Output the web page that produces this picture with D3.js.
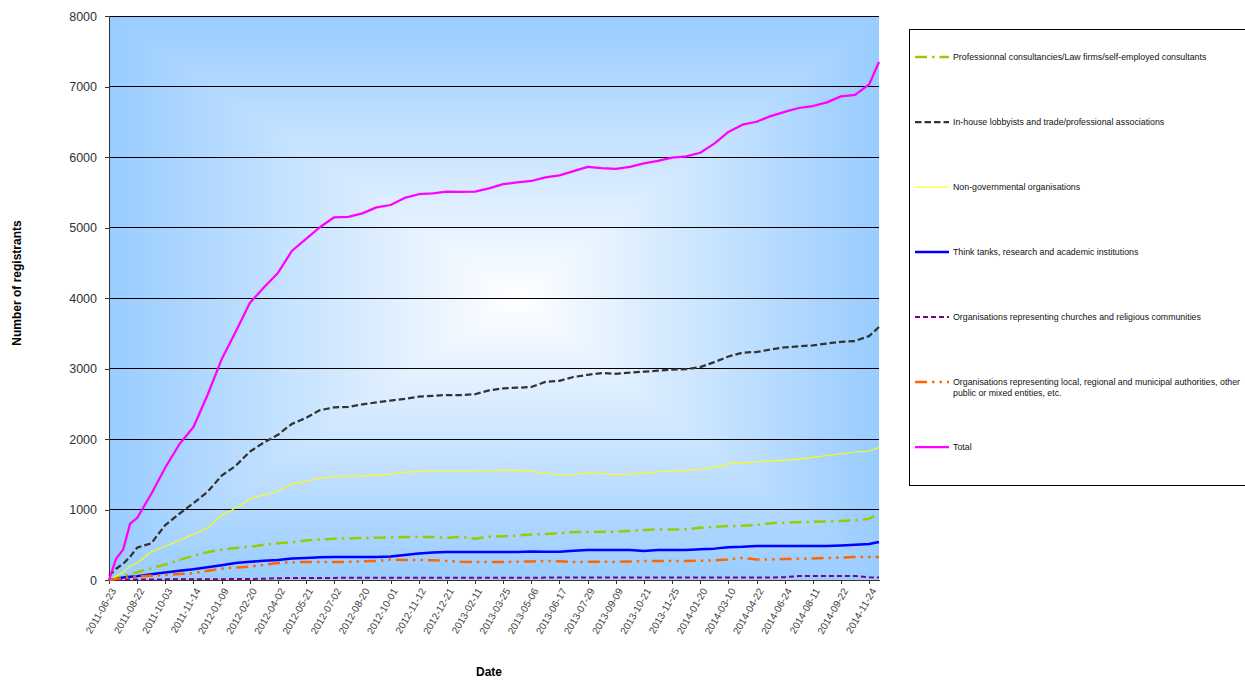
<!DOCTYPE html>
<html>
<head>
<meta charset="utf-8">
<script src="https://cdnjs.cloudflare.com/ajax/libs/d3/7.8.5/d3.min.js"></script>
<style>
  html, body { margin: 0; padding: 0; background: #ffffff; }
  svg { display: block; font-family: "Liberation Sans", Arial, sans-serif; }
</style>
</head>
<body>
<svg id="chart" width="1245" height="680"></svg>
<script>
// Registration snapshot dates shown on the category axis
const tickLabels = [
  "2011-06-23", "2011-08-22", "2011-10-03", "2011-11-14", "2012-01-09", "2012-02-20",
  "2012-04-02", "2012-05-21", "2012-07-02", "2012-08-20", "2012-10-01", "2012-11-12",
  "2012-12-21", "2013-02-11", "2013-03-25", "2013-05-06", "2013-06-17", "2013-07-29",
  "2013-09-09", "2013-10-21", "2013-11-25", "2014-01-20", "2014-03-10", "2014-04-22",
  "2014-06-24", "2014-08-11", "2014-09-22", "2014-11-24"
];

// Position of each sample along the category axis, in label steps
const samplePos = [
  0, 0.25, 0.5, 0.75, 1, 1.5, 2, 2.5, 3, 3.5, 4, 4.5, 5, 5.5, 6, 6.5, 7, 7.5, 8, 8.5,
  9, 9.5, 10, 10.5, 11, 11.5, 12, 12.5, 13, 13.5, 14, 14.5, 15, 15.5, 16, 16.5, 17, 17.5,
  18, 18.5, 19, 19.5, 20, 20.5, 21, 21.5, 22, 22.5, 23, 23.5, 24, 24.5, 25, 25.5, 26,
  26.5, 27, 27.35
];

const professional = [
  0, 30, 55, 85, 110, 165, 220, 285, 345, 395, 430, 455, 470, 500, 520, 535, 560, 575, 585, 590,
  595, 600, 605, 610, 612, 610, 598, 612, 585, 612, 620, 630, 645, 652, 665, 680, 682, 683,
  685, 695, 709, 718, 715, 720, 740, 755, 765, 768, 780, 805, 812, 820, 825, 832, 837,
  845, 870, 936
];
const inHouse = [
  60, 160, 230, 330, 460, 520, 780, 940, 1090, 1250, 1480, 1620, 1820, 1950, 2060, 2215, 2300, 2410, 2448, 2456,
  2490, 2520, 2545, 2570, 2600, 2612, 2624, 2624, 2635, 2690, 2718, 2727, 2738, 2810, 2825, 2880, 2910, 2935,
  2925, 2940, 2955, 2970, 2985, 2990, 3020, 3090, 3170, 3225, 3234, 3270, 3300, 3315, 3328, 3355, 3378,
  3390, 3460, 3589
];
const ngo = [
  0, 50, 110, 200, 241, 400, 480, 560, 650, 740, 920, 1020, 1150, 1210, 1260, 1360, 1405, 1440, 1465, 1475,
  1475, 1488, 1504, 1530, 1540, 1546, 1546, 1546, 1546, 1550, 1560, 1555, 1546, 1515, 1489, 1500, 1518, 1510,
  1495, 1504, 1520, 1535, 1546, 1555, 1570, 1600, 1645, 1665, 1674, 1690, 1700, 1715, 1740, 1765, 1790,
  1815, 1830, 1880
];
const thinkTanks = [
  0, 15, 35, 45, 55, 80, 105, 130, 153, 180, 210, 240, 258, 272, 284, 305, 312, 322, 326, 326,
  326, 326, 335, 355, 375, 390, 397, 397, 397, 397, 397, 397, 405, 400, 400, 415, 425, 425,
  425, 425, 410, 425, 425, 425, 435, 445, 465, 470, 482, 482, 482, 482, 482, 482, 490,
  500, 510, 539
];
const churches = [
  0, 3, 5, 6, 7, 8, 9, 10, 10, 11, 12, 13, 14, 18, 26, 28, 30, 30, 30, 31,
  31, 32, 32, 33, 33, 33, 33, 33, 33, 33, 33, 33, 33, 34, 34, 34, 34, 34,
  34, 34, 35, 35, 35, 35, 35, 35, 35, 35, 35, 36, 40, 57, 58, 58, 58,
  58, 38, 35
];
const localAuthorities = [
  0, 15, 30, 40, 50, 60, 72, 85, 97, 130, 160, 178, 190, 215, 241, 252, 255, 255, 255, 258,
  265, 270, 290, 284, 284, 280, 270, 258, 255, 255, 255, 260, 262, 270, 265, 255, 258, 258,
  256, 262, 268, 270, 270, 270, 272, 280, 290, 312, 290, 292, 298, 300, 305, 312, 318,
  326, 326, 326
];
const total = [
  0, 300, 430, 800, 880, 1220, 1596, 1925, 2170, 2624, 3130, 3520, 3929, 4150, 4355, 4670, 4840, 5007, 5145, 5150,
  5200, 5285, 5319, 5420, 5472, 5485, 5510, 5504, 5510, 5555, 5615, 5640, 5660, 5710, 5740, 5800, 5860, 5842,
  5832, 5860, 5910, 5945, 5990, 6008, 6060, 6190, 6355, 6458, 6500, 6580, 6640, 6695, 6723, 6775, 6860,
  6880, 7030, 7348
];

const yTicks = [0, 1000, 2000, 3000, 4000, 5000, 6000, 7000, 8000];

// Series styling (drawing order = legend order; Total ends on top)
const series = [
  { name: ["Professionnal consultancies/Law firms/self-employed consultants"], values: professional,
    color: "#99cc00", width: 2.5, dash: "12,5,2.5,5" },
  { name: ["In-house lobbyists and trade/professional associations"], values: inHouse,
    color: "#333333", width: 2.25, dash: "6.5,3" },
  { name: ["Non-governmental organisations"], values: ngo,
    color: "#ffff00", width: 1.1, dash: null },
  { name: ["Think tanks, research and academic institutions"], values: thinkTanks,
    color: "#0000ff", width: 2.5, dash: null },
  { name: ["Organisations representing churches and religious communities"], values: churches,
    color: "#800080", width: 2, dash: "5,3" },
  { name: ["Organisations representing local, regional and municipal authorities, other",
           "public or mixed entities, etc."], values: localAuthorities,
    color: "#ff6600", width: 2.5, dash: "12,5,2.5,5,2.5,5" },
  { name: ["Total"], values: total,
    color: "#ff00ff", width: 2.25, dash: null }
];

const plot = { left: 109, right: 879, top: 16, bottom: 580 };

const svg = d3.select("#chart");

const x = d3.scaleLinear()
  .domain([0, samplePos[samplePos.length - 1]])
  .range([plot.left, plot.right]);
const y = d3.scaleLinear()
  .domain([0, 8000])
  .range([plot.bottom, plot.top]);

// Plot background: light blue edges fading to white in the centre (rectangular contours)
const defs = svg.append("defs");
const gx = defs.append("linearGradient").attr("id", "bgX").attr("x1", 0).attr("x2", 1).attr("y1", 0).attr("y2", 0);
gx.append("stop").attr("offset", 0).attr("stop-color", "#99ccff");
gx.append("stop").attr("offset", 0.53).attr("stop-color", "#ffffff");
gx.append("stop").attr("offset", 1).attr("stop-color", "#99ccff");
const gy = defs.append("linearGradient").attr("id", "bgY").attr("x1", 0).attr("x2", 0).attr("y1", 0).attr("y2", 1);
gy.append("stop").attr("offset", 0).attr("stop-color", "#99ccff");
gy.append("stop").attr("offset", 0.5).attr("stop-color", "#ffffff");
gy.append("stop").attr("offset", 1).attr("stop-color", "#99ccff");

const bg = svg.append("g").style("isolation", "isolate");
bg.append("rect")
  .attr("x", plot.left).attr("y", plot.top)
  .attr("width", plot.right - plot.left).attr("height", plot.bottom - plot.top)
  .attr("fill", "url(#bgX)");
bg.append("rect")
  .attr("x", plot.left).attr("y", plot.top)
  .attr("width", plot.right - plot.left).attr("height", plot.bottom - plot.top)
  .attr("fill", "url(#bgY)")
  .style("mix-blend-mode", "darken");

// Horizontal gridlines
svg.append("g")
  .selectAll("line")
  .data(yTicks.filter(v => v > 0))
  .join("line")
  .attr("x1", plot.left).attr("x2", plot.right)
  .attr("y1", d => y(d)).attr("y2", d => y(d))
  .attr("stroke", "#000000")
  .attr("stroke-width", 1)
  .attr("shape-rendering", "crispEdges");

// Y axis
const yAxis = svg.append("g")
  .attr("transform", `translate(${plot.left},0)`)
  .call(d3.axisLeft(y).tickValues(yTicks).tickSize(4).tickPadding(8).tickFormat(d3.format("d")));
yAxis.select(".domain").attr("stroke", "#333333").attr("shape-rendering", "crispEdges");
yAxis.selectAll(".tick line").attr("stroke", "#333333").attr("shape-rendering", "crispEdges");
yAxis.selectAll(".tick text")
  .attr("fill", "#333333")
  .style("font-size", "12.5px")
  .style("font-family", "'Liberation Sans', Arial, sans-serif");

// X axis (category labels)
const xAxis = svg.append("g")
  .attr("transform", `translate(0,${plot.bottom})`)
  .call(d3.axisBottom(x)
    .tickValues(d3.range(tickLabels.length))
    .tickFormat(i => tickLabels[i])
    .tickSize(4)
    .tickSizeOuter(0));
xAxis.select(".domain").attr("stroke", "#333333").attr("shape-rendering", "crispEdges");
xAxis.selectAll(".tick line").attr("stroke", "#333333").attr("shape-rendering", "crispEdges");
xAxis.selectAll(".tick text")
  .attr("fill", "#404040")
  .style("font-size", "10px")
  .style("font-family", "'Liberation Sans', Arial, sans-serif")
  .attr("text-anchor", "end")
  .attr("dy", "0.35em")
  .attr("y", 0)
  .attr("transform", "translate(4,9) rotate(-60)");

// Series lines
const line = d3.line()
  .x((d, i) => x(samplePos[i]))
  .y(d => y(d))
  .curve(d3.curveLinear);

svg.append("g")
  .selectAll("path")
  .data(series)
  .join("path")
  .attr("d", s => line(s.values))
  .attr("fill", "none")
  .attr("stroke", s => s.color)
  .attr("stroke-width", s => s.width)
  .attr("stroke-dasharray", s => s.dash)
  .attr("stroke-linejoin", "round");

// Axis titles
svg.append("text")
  .attr("transform", "translate(21,283) rotate(-90)")
  .attr("text-anchor", "middle")
  .style("font-size", "12px")
  .style("font-weight", "bold")
  .attr("fill", "#000000")
  .text("Number of registrants");

svg.append("text")
  .attr("x", 489).attr("y", 676)
  .attr("text-anchor", "middle")
  .style("font-size", "12px")
  .style("font-weight", "bold")
  .attr("fill", "#000000")
  .text("Date");

// Legend
const legend = svg.append("g");
legend.append("rect")
  .attr("x", 909.5).attr("y", 29.5)
  .attr("width", 340).attr("height", 456)
  .attr("fill", "#ffffff")
  .attr("stroke", "#000000")
  .attr("stroke-width", 1);

const items = legend.selectAll("g.item")
  .data(series)
  .join("g")
  .attr("class", "item")
  .attr("transform", (d, i) => `translate(0,${57 + i * 65})`);

items.append("line")
  .attr("x1", 915).attr("x2", 949)
  .attr("y1", 0).attr("y2", 0)
  .attr("stroke", d => d.color)
  .attr("stroke-width", d => d.width)
  .attr("stroke-dasharray", d => d.dash);

items.each(function (d) {
  const t = d3.select(this).append("text")
    .attr("x", 953).attr("y", 3)
    .style("font-size", "8.8px")
    .attr("fill", "#111111");
  d.name.forEach((ln, k) => {
    t.append("tspan").attr("x", 953).attr("dy", k === 0 ? 0 : 11).text(ln);
  });
});
</script>
</body>
</html>
